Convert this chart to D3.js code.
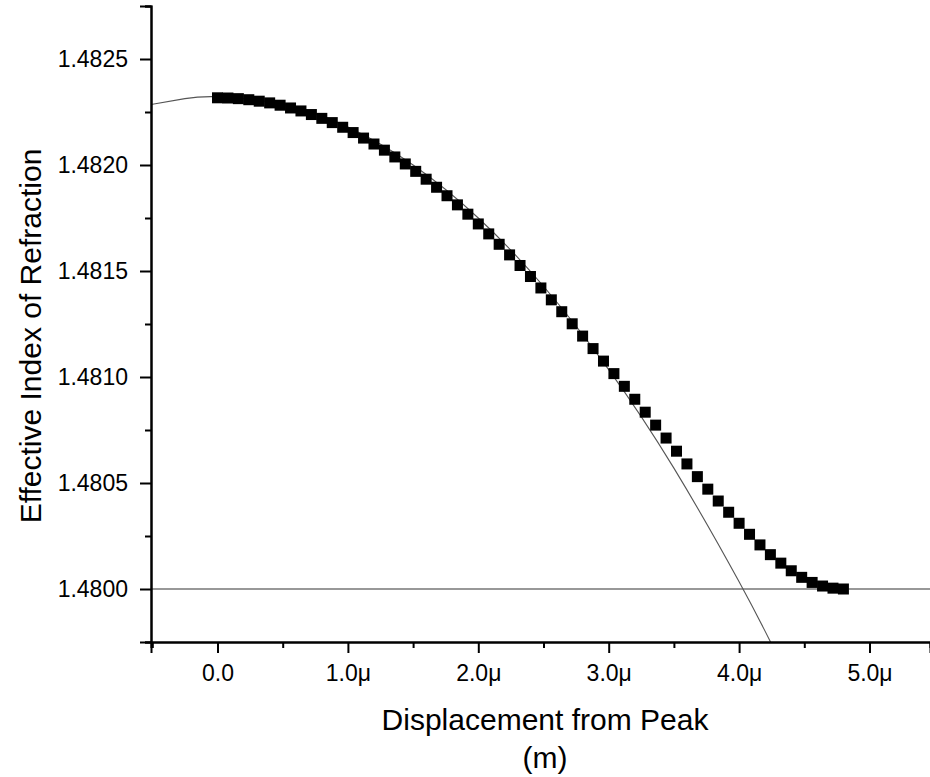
<!DOCTYPE html>
<html lang="en">
<head>
  <meta charset="UTF-8" />
  <title>Effective Index of Refraction</title>
  <style>
    body {
      margin: 0;
      background: white;
    }
    svg {
      display: block;
      font-family: "Liberation Sans", Arial, sans-serif;
    }
    .tick-label {
      font-size: 23px;
      fill: #000;
    }
    .axis-title {
      font-size: 30px;
      fill: #000;
    }
  </style>
</head>
<body>
  <svg width="930" height="777"></svg>

  <script src="https://d3js.org/d3.v7.min.js"></script>
  <script>
    // measured points (displacement in microns)
    const displacement = [
      0.00, 0.08, 0.16, 0.24, 0.32, 0.40, 0.48, 0.56, 0.64, 0.72,
      0.80, 0.88, 0.96, 1.04, 1.12, 1.20, 1.28, 1.36, 1.44, 1.52,
      1.60, 1.68, 1.76, 1.84, 1.92, 2.00, 2.08, 2.16, 2.24, 2.32,
      2.40, 2.48, 2.56, 2.64, 2.72, 2.80, 2.88, 2.96, 3.04, 3.12,
      3.20, 3.28, 3.36, 3.44, 3.52, 3.60, 3.68, 3.76, 3.84, 3.92,
      4.00, 4.08, 4.16, 4.24, 4.32, 4.40, 4.48, 4.56, 4.64, 4.72,
      4.80
    ];
    const effIndex = [
      1.482317, 1.482316, 1.482313, 1.482308, 1.482301, 1.482293, 1.482282, 1.482269, 1.482255, 1.482238,
      1.482220, 1.482200, 1.482178, 1.482153, 1.482127, 1.482099, 1.482070, 1.482038, 1.482005, 1.481970,
      1.481933, 1.481895, 1.481855, 1.481812, 1.481768, 1.481722, 1.481675, 1.481626, 1.481576, 1.481526,
      1.481474, 1.481420, 1.481364, 1.481308, 1.481251, 1.481193, 1.481134, 1.481075, 1.481016, 1.480956,
      1.480895, 1.480834, 1.480773, 1.480712, 1.480650, 1.480590, 1.480530, 1.480471, 1.480415, 1.480362,
      1.480310, 1.480258, 1.480208, 1.480162, 1.480122, 1.480086, 1.480055, 1.480031, 1.480014, 1.480004,
      1.480000
    ];

    // fitted curve
    const fitX = [-0.51, -0.25, 0.0, 0.5, 1.0, 1.5, 2.0, 2.5, 3.0, 3.5, 4.0, 4.25];
    const fitY = [1.482285, 1.482313, 1.482322, 1.482286, 1.482179, 1.482000, 1.481750, 1.481428, 1.481035, 1.480570, 1.480034, 1.479739];

    const baseline = 1.4800;

    const xMajor = [0, 1, 2, 3, 4, 5];
    const xMinorTicks = [-0.5, 0.5, 1.5, 2.5, 3.5, 4.5];
    const yMajor = [1.4800, 1.4805, 1.4810, 1.4815, 1.4820, 1.4825];
    const yMinorTicks = [1.47975, 1.48025, 1.48075, 1.48125, 1.48175, 1.48225, 1.48275];

    const svg = d3.select("svg");

    const plotLeft = 151, plotRight = 930, plotTop = 6, plotBottom = 642;

    const x = d3.scaleLinear().domain([-0.51, 5.464]).range([plotLeft, plotRight]);
    const y = d3.scaleLinear().domain([1.47975, 1.48275]).range([plotBottom, plotTop]);

    svg.append("defs").append("clipPath")
      .attr("id", "plot-clip")
      .append("rect")
        .attr("x", plotLeft)
        .attr("y", plotTop)
        .attr("width", plotRight - plotLeft)
        .attr("height", plotBottom - plotTop);

    const plot = svg.append("g").attr("clip-path", "url(#plot-clip)");

    // reference line at 1.4800
    plot.append("line")
      .attr("x1", plotLeft)
      .attr("x2", plotRight)
      .attr("y1", y(baseline))
      .attr("y2", y(baseline))
      .attr("stroke", "#333")
      .attr("stroke-width", 1.2);

    const fit = fitX.map((d, i) => [d, fitY[i]]);
    plot.append("path")
      .datum(fit)
      .attr("fill", "none")
      .attr("stroke", "#555")
      .attr("stroke-width", 1.1)
      .attr("d", d3.line()
        .x(d => x(d[0]))
        .y(d => y(d[1]))
        .curve(d3.curveNatural));

    const size = 11;
    plot.append("g")
      .selectAll("rect")
      .data(displacement.map((d, i) => [d, effIndex[i]]))
      .join("rect")
        .attr("x", d => x(d[0]) - size / 2)
        .attr("y", d => y(d[1]) - size / 2)
        .attr("width", size)
        .attr("height", size)
        .attr("fill", "#000");

    // axes
    const xAxis = d3.axisBottom(x)
      .tickValues(xMajor)
      .tickSize(11)
      .tickPadding(12)
      .tickFormat(d => d === 0 ? "0.0" : d3.format(".1f")(d) + "μ");

    const xMinor = d3.axisBottom(x)
      .tickValues(xMinorTicks)
      .tickSize(6)
      .tickFormat("");

    const yAxis = d3.axisLeft(y)
      .tickValues(yMajor)
      .tickSize(11)
      .tickPadding(12)
      .tickFormat(d3.format(".4f"));

    const yMinor = d3.axisLeft(y)
      .tickValues(yMinorTicks)
      .tickSize(6)
      .tickFormat("");

    function styleAxis(g) {
      g.attr("font-family", null).attr("font-size", null);
      g.select(".domain").attr("stroke", "#000").attr("stroke-width", 2);
      g.selectAll(".tick line").attr("stroke", "#000").attr("stroke-width", 2);
      g.selectAll(".tick text").attr("class", "tick-label");
    }

    svg.append("g")
      .attr("transform", `translate(0,${plotBottom})`)
      .call(xMinor)
      .call(styleAxis);
    svg.append("g")
      .attr("transform", `translate(0,${plotBottom})`)
      .call(xAxis)
      .call(styleAxis);

    svg.append("g")
      .attr("transform", `translate(${plotLeft},0)`)
      .call(yMinor)
      .call(styleAxis);
    svg.append("g")
      .attr("transform", `translate(${plotLeft},0)`)
      .call(yAxis)
      .call(styleAxis);

    svg.append("text")
      .attr("class", "axis-title")
      .attr("x", 545)
      .attr("y", 730)
      .attr("text-anchor", "middle")
      .text("Displacement from Peak");

    svg.append("text")
      .attr("class", "axis-title")
      .attr("x", 545)
      .attr("y", 768)
      .attr("text-anchor", "middle")
      .text("(m)");

    svg.append("text")
      .attr("class", "axis-title")
      .attr("transform", `translate(41,336) rotate(-90)`)
      .attr("text-anchor", "middle")
      .text("Effective Index of Refraction");
  </script>
</body>
</html>
